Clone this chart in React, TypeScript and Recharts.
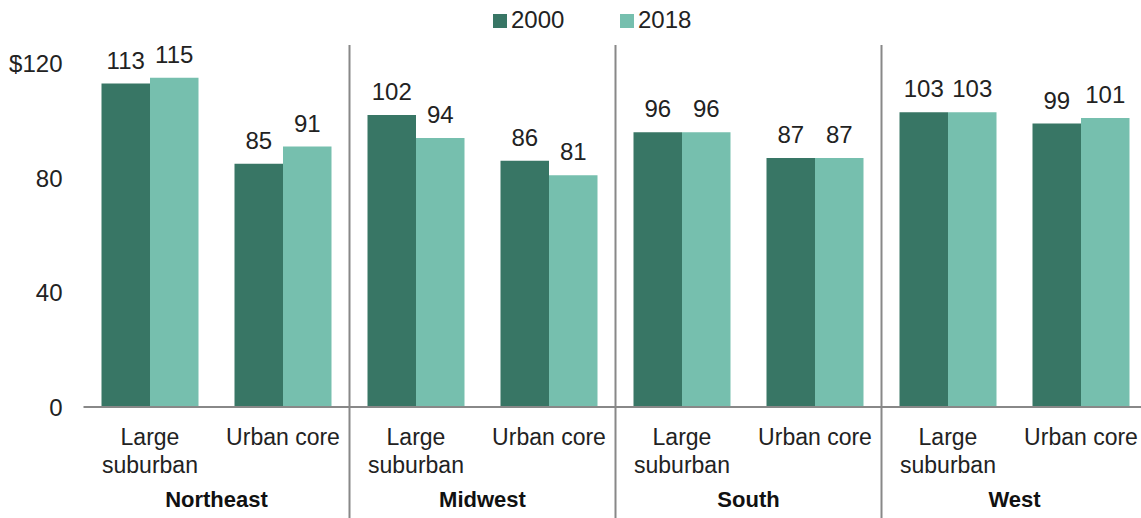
import React from 'react';
import { BarChart, Bar, XAxis, YAxis, LabelList } from 'recharts';

const categories = [
  'Large\nsuburban', 'Urban core',
  'Large\nsuburban', 'Urban core',
  'Large\nsuburban', 'Urban core',
  'Large\nsuburban', 'Urban core',
];
const regions = ['Northeast', 'Northeast', 'Midwest', 'Midwest', 'South', 'South', 'West', 'West'];
const values2000 = [113, 85, 102, 86, 96, 87, 103, 99];
const values2018 = [115, 91, 94, 81, 96, 87, 103, 101];
const seriesNames = ['2000', '2018'];
const seriesColors = ['#387665', '#76bfae'];
const yTicks = [0, 40, 80, 120];

const data = categories.map((c, i) => ({
  key: i,
  label: c,
  region: regions[i],
  v2000: values2000[i],
  v2018: values2018[i],
}));

const FONT = '"Liberation Sans", Arial, sans-serif';
const TEXT = '#222222';
const GRID = '#888888';
const BAND = 133;

const CatTick = (props: any) => {
  const { x, y, payload } = props;
  const i = payload.value as number;
  const row = data[i];
  if (!row) return null;
  const lines = row.label.split('\n');
  return (
    <g>
      {lines.map((ln: string, k: number) => (
        <text key={k} x={x} y={y + 38 + k * 28} textAnchor="middle" fill={TEXT} fontSize={23} fontFamily={FONT}>
          {ln}
        </text>
      ))}
      {i % 2 === 0 && (
        <text x={x + BAND / 2} y={y + 100} textAnchor="middle" fill="#111" fontSize={22} fontWeight="bold" fontFamily={FONT}>
          {row.region}
        </text>
      )}
      {i % 2 === 1 && i < categories.length - 1 && (
        <line x1={x + BAND / 2} x2={x + BAND / 2} y1={45} y2={518} stroke={GRID} strokeWidth={2} />
      )}
    </g>
  );
};

export default function App() {
  return (
    <div style={{ position: 'absolute', left: 0, top: 0, width: 1141, height: 518, overflow: 'hidden', background: '#fff' }}>
      <svg width={1141} height={40} style={{ position: 'absolute', left: 0, top: 0 }}>
        <rect x={493} y={14} width={14} height={14} fill={seriesColors[0]} />
        <text x={511} y={28} fontSize={24} fill={TEXT} fontFamily={FONT}>{seriesNames[0]}</text>
        <rect x={620} y={14} width={14} height={14} fill={seriesColors[1]} />
        <text x={638} y={28} fontSize={24} fill={TEXT} fontFamily={FONT}>{seriesNames[1]}</text>
      </svg>
      <div style={{ position: 'absolute', left: 0, top: 0 }}>
        <BarChart
          width={1150}
          height={518}
          data={data}
          margin={{ top: 63.5, right: 2.5, bottom: 11, left: 13.5 }}
          barGap={0}
          barSize={48.5}
        >
          <XAxis
            dataKey="key"
            type="category"
            axisLine={{ stroke: GRID, strokeWidth: 2 }}
            tickLine={false}
            tickSize={0}
            tickMargin={0}
            height={100}
            interval={0}
            tick={<CatTick />}
          />
          <YAxis
            domain={[0, 120]}
            ticks={yTicks}
            axisLine={false}
            tickLine={false}
            tickSize={0}
            tickMargin={21}
            width={70}
            tickFormatter={(v: number) => (v === 120 ? '$' + v : String(v))}
            tick={{ fill: TEXT, fontSize: 24, fontFamily: FONT }}
          />
          <Bar dataKey="v2000" name={seriesNames[0]} fill={seriesColors[0]} isAnimationActive={false}>
            <LabelList dataKey="v2000" position="top" offset={15} fill={TEXT} fontSize={24} fontFamily={FONT} />
          </Bar>
          <Bar dataKey="v2018" name={seriesNames[1]} fill={seriesColors[1]} isAnimationActive={false}>
            <LabelList dataKey="v2018" position="top" offset={15} fill={TEXT} fontSize={24} fontFamily={FONT} />
          </Bar>
        </BarChart>
      </div>
    </div>
  );
}
